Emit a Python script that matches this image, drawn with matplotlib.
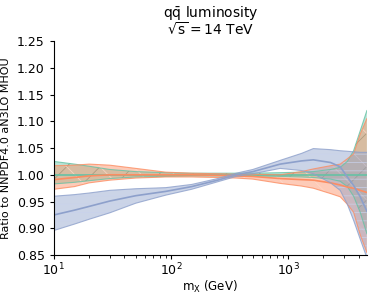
import numpy as np
import matplotlib.pyplot as plt
from matplotlib.colors import to_rgba

mx = [10, 15, 20, 30, 50, 90, 150, 250, 360, 500, 855, 1300, 1640, 2300, 2780, 3200, 3620, 4120, 4700]

green_mid = [1.0] * len(mx)
green_hi = [1.025, 1.020, 1.016, 1.010, 1.006, 1.004, 1.003, 1.003, 1.003, 1.003, 1.004, 1.005, 1.006, 1.010, 1.014, 1.025, 1.045, 1.082, 1.12]
green_lo = [0.983, 0.986, 0.989, 0.993, 0.996, 0.997, 0.998, 0.998, 0.998, 0.998, 0.997, 0.996, 0.995, 0.992, 0.988, 0.978, 0.960, 0.930, 0.890]

orange_mid = [0.991, 0.995, 0.998, 1.000, 1.000, 1.000, 1.000, 0.999, 0.998, 0.997, 0.993, 0.991, 0.990, 0.985, 0.981, 0.977, 0.975, 0.971, 0.967]
orange_hi = [1.017, 1.018, 1.020, 1.018, 1.012, 1.005, 1.003, 1.002, 1.001, 1.001, 1.000, 1.006, 1.011, 1.017, 1.020, 1.030, 1.039, 1.076, 1.105]
orange_lo = [0.973, 0.978, 0.985, 0.990, 0.994, 0.996, 0.996, 0.995, 0.994, 0.992, 0.984, 0.979, 0.975, 0.965, 0.959, 0.945, 0.930, 0.888, 0.855]

blue_mid = [0.925, 0.934, 0.941, 0.951, 0.961, 0.969, 0.978, 0.990, 1.000, 1.006, 1.020, 1.026, 1.028, 1.023, 1.015, 0.996, 0.980, 0.959, 0.932]
blue_hi = [0.960, 0.963, 0.966, 0.971, 0.974, 0.976, 0.982, 0.993, 1.003, 1.010, 1.027, 1.040, 1.049, 1.047, 1.045, 1.044, 1.043, 1.042, 1.042]
blue_lo = [0.896, 0.908, 0.917, 0.929, 0.947, 0.962, 0.973, 0.987, 0.997, 1.002, 1.012, 1.008, 1.002, 0.985, 0.971, 0.945, 0.915, 0.880, 0.845]

# (line colour, hatch, hatch colour, central, lower, upper)
series = [
	("#66c2a5", "/", "#5a9a86", green_mid, green_lo, green_hi),
	("#fc8d62", "\\", "#ffd9c9", orange_mid, orange_lo, orange_hi),
	("#8da0cb", "--", "#c9d2ec", blue_mid, blue_lo, blue_hi),
]

plt.rcParams["hatch.linewidth"] = 0.6

fig = plt.figure(figsize=(3.74, 2.97), dpi=100)
ax = fig.add_axes([0.144, 0.141, 0.837, 0.721])

for color, hatch, hcol, mid, lo, hi in series:
	ax.fill_between(mx, lo, hi, facecolor=to_rgba(color, 0.45), edgecolor=to_rgba(hcol, 0.8), hatch=hatch, lw=0)
	ax.plot(mx, lo, color=color, lw=0.8, alpha=0.8)
	ax.plot(mx, hi, color=color, lw=0.8, alpha=0.8)
	ax.plot(mx, mid, color=color, lw=1.2)

ax.set_xscale("log")
ax.set_xlim(10, 4700)
ax.set_ylim(0.85, 1.25)
ax.set_yticks(np.arange(0.85, 1.2501, 0.05))
ax.tick_params(labelsize=9, length=3)
ax.tick_params(axis="x", pad=1.5)
ax.tick_params(which="minor", length=2)
for s in ("top", "right"):
	ax.spines[s].set_visible(False)

ax.set_xlabel(r"$\mathrm{m_X}$ (GeV)", fontsize=8.5, labelpad=1)
ax.set_ylabel("Ratio to NNPDF4.0 aN3LO MHOU", fontsize=8)
ax.set_title(r"$\mathrm{q\bar{q}}$ luminosity" + "\n" + r"$\mathrm{\sqrt{s}=14}$ TeV", fontsize=10, pad=4, linespacing=0.95)

fig.savefig("out.png", dpi=100)
